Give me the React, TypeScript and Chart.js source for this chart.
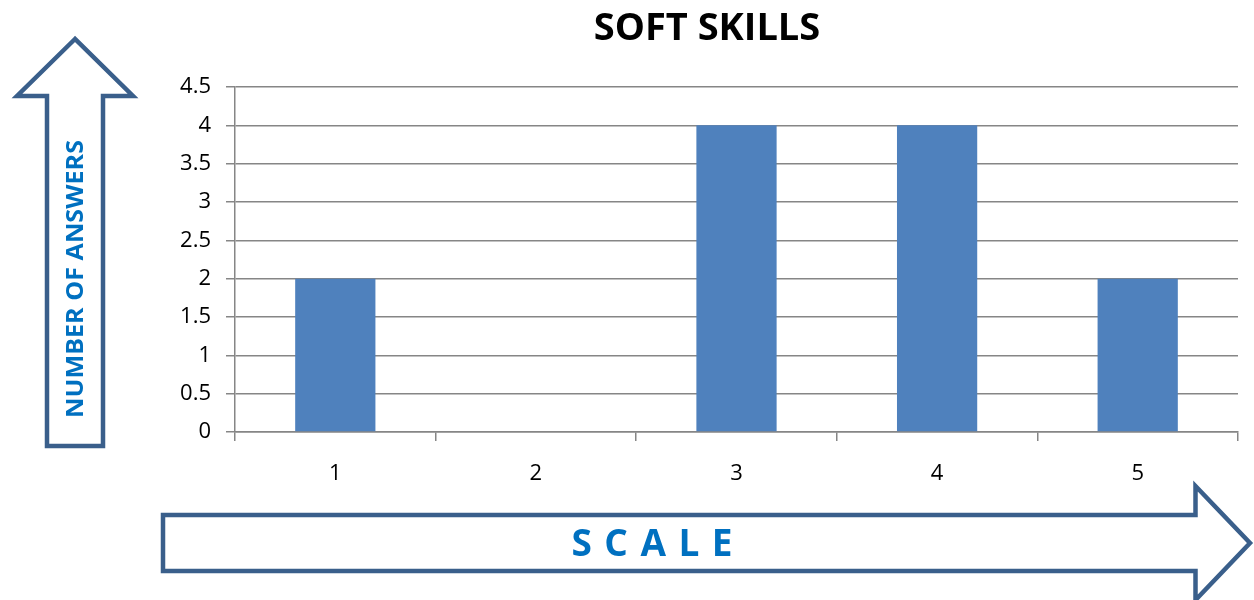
import React, { useEffect, useRef } from "react";
import { Chart, registerables } from "chart.js";

Chart.register(...registerables);

// ---- data ----
const categories: string[] = ["1", "2", "3", "4", "5"];
const answers: number[] = [2, 0, 4, 4, 2];
const yMin = 0;
const yMax = 4.5;
const yStep = 0.5;
const chartTitle = "SOFT SKILLS";
const yArrowLabel = "NUMBER OF ANSWERS";
const xArrowLabel = "S C A L E";

const W = 1254;
const H = 600;
const FONT = "'Open Sans', 'DejaVu Sans', sans-serif";
const GRID = "#868686";
const BAR = "#4F81BD";
const ARROW = "#3A5F8B";
const LABEL_BLUE = "#0070C0";

export default function App() {
  const ref = useRef<HTMLCanvasElement | null>(null);

  useEffect(() => {
    if (!ref.current) return;
    const chart = new Chart(ref.current, {
      type: "bar",
      data: {
        labels: categories,
        datasets: [
          {
            label: "answers",
            data: answers,
            backgroundColor: BAR,
            borderWidth: 0,
            categoryPercentage: 1,
            barPercentage: 0.4,
          },
        ],
      },
      options: {
        responsive: false,
        animation: false,
        layout: { padding: { left: 176, right: 16, top: 0, bottom: 0 } },
        plugins: {
          legend: { display: false },
          tooltip: { enabled: false },
          title: {
            display: true,
            text: chartTitle,
            color: "#000",
            font: { family: FONT, size: 38, weight: "bold", lineHeight: 1.2 },
            padding: { top: 6, bottom: 35.4 },
          },
        },
        scales: {
          x: {
            grid: {
              offset: true,
              drawOnChartArea: false,
              drawTicks: true,
              tickLength: 9,
              color: GRID,
              lineWidth: 1.5,
            },
            border: { display: true, color: GRID, width: 1.5 },
            ticks: {
              color: "#000",
              font: { family: FONT, size: 22 },
              padding: 20,
            },
            afterFit: (scale: any) => {
              scale.height = H - 432;
            },
          },
          y: {
            min: yMin,
            max: yMax,
            ticks: {
              stepSize: yStep,
              color: "#000",
              font: { family: FONT, size: 22 },
              padding: 15,
              callback: (v: any) => String(Number(v)),
            },
            grid: {
              color: GRID,
              lineWidth: 1.5,
              drawTicks: true,
              tickLength: 9,
            },
            border: { display: true, color: GRID, width: 1.5 },
            afterFit: (scale: any) => {
              scale.width = 235 - 176;
            },
          },
        },
      },
    });
    return () => chart.destroy();
  }, []);

  return (
    <div
      style={{
        position: "fixed",
        left: 0,
        top: 0,
        width: W,
        height: H,
        background: "#fff",
        overflow: "hidden",
      }}
    >
      <canvas ref={ref} width={W} height={H} style={{ width: W, height: H, display: "block" }} />
      <svg
        width={W}
        height={H}
        style={{ position: "absolute", left: 0, top: 0, pointerEvents: "none" }}
      >
        <polygon
          points="75,39 17,96 47,96 47,446 103,446 103,96 133,96"
          fill="none"
          stroke={ARROW}
          strokeWidth={4.5}
          strokeLinejoin="miter"
        />
        <polygon
          points="163,515 1195.5,515 1195.5,486 1250,543 1195.5,600 1195.5,571 163,571"
          fill="none"
          stroke={ARROW}
          strokeWidth={4.5}
          strokeLinejoin="miter"
        />
        <text
          transform="translate(73,279) rotate(-90)"
          textAnchor="middle"
          dominantBaseline="central"
          fontFamily={FONT}
          fontWeight="bold"
          fontSize={24}
          fill={LABEL_BLUE}
          textLength={278}
          lengthAdjust="spacingAndGlyphs"
        >
          {yArrowLabel}
        </text>
        <text
          x={652}
          y={541.5}
          textAnchor="middle"
          dominantBaseline="central"
          fontFamily={FONT}
          fontWeight="bold"
          fontSize={37}
          fill={LABEL_BLUE}
          textLength={161}
          lengthAdjust="spacing"
        >
          {xArrowLabel}
        </text>
      </svg>
    </div>
  );
}
